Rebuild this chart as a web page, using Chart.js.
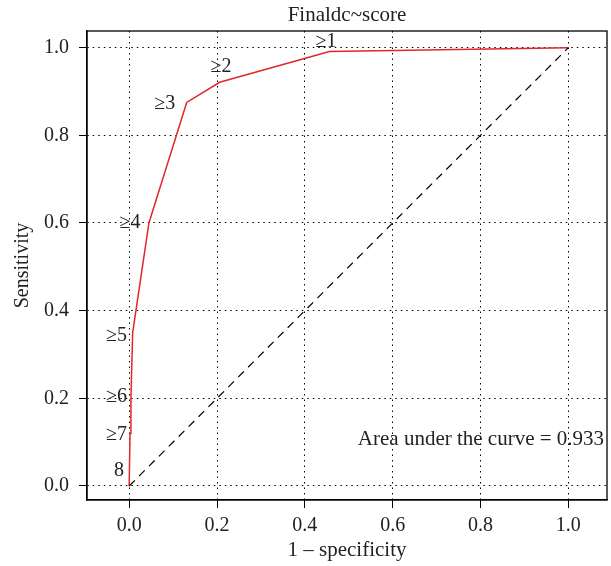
<!DOCTYPE html>
<html>
<head>
<meta charset="utf-8">
<script src="https://cdn.jsdelivr.net/npm/chart.js@4/dist/chart.umd.min.js"></script>
<style>
    html, body { margin: 0; padding: 0; background: #fff; }
    #wrap { width: 611px; height: 566px; }
</style>
</head>
<body>
<div id="wrap"><canvas id="rocChart" width="611" height="566"></canvas></div>
<script>
// ROC points (1 - specificity, sensitivity), one per score threshold
const fpr = [0, 0.002, 0.004, 0.008, 0.045, 0.131, 0.206, 0.456, 1.0];
const tpr = [0, 0.12, 0.20, 0.35, 0.60, 0.875, 0.921, 0.991, 1.0];

// threshold labels and where they sit (data units)
const cutLabels = ['8', '≥7', '≥6', '≥5', '≥4', '≥3', '≥2', '≥1'];
const cutLabelX = [-0.023, -0.029, -0.029, -0.029, 0.002, 0.081, 0.209, 0.448];
const cutLabelY = [0.035, 0.118, 0.204, 0.343, 0.600, 0.871, 0.957, 1.014];

const xTicks = [0, 0.2, 0.4, 0.6, 0.8, 1.0];
const yTicks = [0, 0.2, 0.4, 0.6, 0.8, 1.0];
const chanceLine = [0, 1];

const titleText = 'Finaldc~score';
const aucText = 'Area under the curve = 0.933';
const aucPos = [0.801, 0.107];

const FONT = '"Liberation Serif", "DejaVu Serif", serif';
const TXT = '#222';

document.addEventListener('DOMContentLoaded', () => {
    const canvas = document.getElementById('rocChart');

    const textPlugin = {
        id: 'rocText',
        afterDraw(chart) {
            const { ctx, chartArea, scales } = chart;
            const xs = scales.x;
            const ys = scales.y;
            ctx.save();
            // plot box
            ctx.strokeStyle = '#000';
            ctx.lineWidth = 1.3;
            ctx.strokeRect(chartArea.left, chartArea.top, chartArea.right - chartArea.left, chartArea.bottom - chartArea.top);

            ctx.fillStyle = TXT;
            ctx.textAlign = 'center';
            ctx.textBaseline = 'middle';
            ctx.font = '21px ' + FONT;
            ctx.fillText(titleText, (chartArea.left + chartArea.right) / 2, 15);

            ctx.font = '20px ' + FONT;
            cutLabels.forEach((lab, i) => {
                ctx.fillText(lab, xs.getPixelForValue(cutLabelX[i]), ys.getPixelForValue(cutLabelY[i]));
            });
            ctx.font = '21px ' + FONT;
            ctx.fillText(aucText, xs.getPixelForValue(aucPos[0]), ys.getPixelForValue(aucPos[1]));
            ctx.restore();
        },
    };

    new Chart(canvas, {
        type: 'scatter',
        data: {
            datasets: [
                {
                    data: chanceLine.map((v) => ({ x: v, y: v })),
                    showLine: true,
                    borderColor: '#000',
                    borderWidth: 1.2,
                    borderDash: [8, 6],
                    pointRadius: 0,
                },
                {
                    data: fpr.map((v, i) => ({ x: v, y: tpr[i] })),
                    showLine: true,
                    borderColor: '#e3262b',
                    borderWidth: 1.5,
                    pointRadius: 0,
                },
            ],
        },
        options: {
            responsive: false,
            animation: false,
            devicePixelRatio: 1,
            layout: { padding: { top: 31, right: 4, left: 0, bottom: 0 } },
            plugins: {
                legend: { display: false },
                tooltip: { enabled: false },
            },
            scales: {
                x: {
                    type: 'linear',
                    min: -0.096,
                    max: 1.088,
                    afterBuildTicks: (axis) => { axis.ticks = xTicks.map((v) => ({ value: v })); },
                    afterFit: (axis) => { axis.height = 66; },
                    grid: { color: '#000', lineWidth: 1, tickLength: 8, tickColor: '#000', tickBorderDash: [] },
                    border: { display: true, color: '#000', width: 1.3, dash: [1.5, 4] },
                    ticks: {
                        padding: 6,
                        color: TXT,
                        font: { family: FONT, size: 20 },
                        callback: (v) => Number(v).toFixed(1),
                    },
                    title: {
                        display: true,
                        text: '1 – specificity',
                        color: TXT,
                        font: { family: FONT, size: 21 },
                        padding: { top: 0, bottom: 3 },
                    },
                },
                y: {
                    type: 'linear',
                    min: -0.032,
                    max: 1.038,
                    afterBuildTicks: (axis) => { axis.ticks = yTicks.map((v) => ({ value: v })); },
                    afterFit: (axis) => { axis.width = 87; },
                    grid: { color: '#000', lineWidth: 1, tickLength: 8, tickColor: '#000', tickBorderDash: [] },
                    border: { display: true, color: '#000', width: 1.3, dash: [1.5, 4] },
                    ticks: {
                        padding: 10,
                        color: TXT,
                        font: { family: FONT, size: 20 },
                        callback: (v) => Number(v).toFixed(1),
                    },
                    title: {
                        display: true,
                        text: 'Sensitivity',
                        color: TXT,
                        font: { family: FONT, size: 20 },
                        padding: { top: 11, bottom: 0 },
                    },
                },
            },
        },
        plugins: [textPlugin],
    });
});
</script>
</body>
</html>
